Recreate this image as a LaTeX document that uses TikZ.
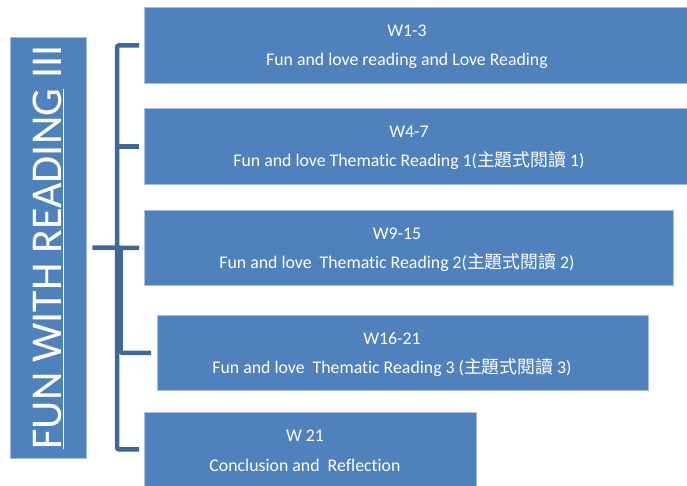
\documentclass[tikz,border=0pt]{standalone}
\usepackage{fontspec}
\setmainfont{Carlito}[Ligatures=NoCommon]
\newfontfamily\cjk{Noto Sans CJK TC}
\definecolor{boxblue}{HTML}{4F81BD}
\definecolor{boxedge}{HTML}{A7BFDE}
\definecolor{brblue}{HTML}{3F6897}
\begin{document}
\begin{tikzpicture}[x=1pt,y=-1pt,
  box/.style={fill=boxblue,draw=boxedge,line width=0.8pt,anchor=north west,inner sep=0pt},
  txt/.style={text=white,align=center,font=\fontsize{17.8}{29.5}\selectfont,inner sep=0pt},
  br/.style={draw=brblue,line width=4.5pt,rounded corners=2pt}]
\useasboundingbox (0,0) rectangle (687,485);
% title
\node[fill=boxblue,draw=boxedge,line width=0.8pt,minimum width=421pt,minimum height=76pt,rotate=90,inner sep=0pt,
  text=white,font=\fontsize{44}{44}\selectfont] (title) at (48,247.5) {\underline{FUN WITH READING} III};
% boxes
\node[box,minimum width=543pt,minimum height=76pt] (b1) at (144,7) {};
\node[box,minimum width=543pt,minimum height=76pt] (b2) at (144,108) {};
\node[box,minimum width=529pt,minimum height=75pt] (b3) at (144,210) {};
\node[box,minimum width=491pt,minimum height=75pt] (b4) at (157,315) {};
\node[box,minimum width=332pt,minimum height=74pt] (b5) at (144,412) {};
% texts
\node[txt] (t1) at (407,47) {W1-3\\Fun and love reading and Love Reading};
\node[txt] (t2) at (409,148) {W4-7\\Fun and love Thematic Reading 1({\cjk 主題式閱讀} 1)};
\node[txt] (t3) at (397,249.5) {W9-15\\Fun and love\ \ Thematic Reading 2({\cjk 主題式閱讀} 2)};
\node[txt] (t4) at (392,354.5) {W16-21\\Fun and love\ \ Thematic Reading 3 ({\cjk 主題式閱讀} 3)};
\node[txt] (t5) at (305,451) {W 21\\Conclusion and\ \ Reflection};
% bracket
\coordinate (v) at (117,0);
\coordinate (v2) at (120.5,0);
\draw[br] ([xshift=-5pt]b1.west) -- (b1.west -| v) -- (b5.west -| v) -- ([xshift=-5pt]b5.west);
\draw[br,rounded corners=0pt] ([xshift=-5pt]b2.west) -- (b2.west -| v);
\draw[br,rounded corners=0pt] ([xshift=6pt]title.south) -- ([xshift=-5pt]b3.west);
\draw[br] (b3.west -| v2) |- ([xshift=-6pt]b4.west);
\end{tikzpicture}
\end{document}
